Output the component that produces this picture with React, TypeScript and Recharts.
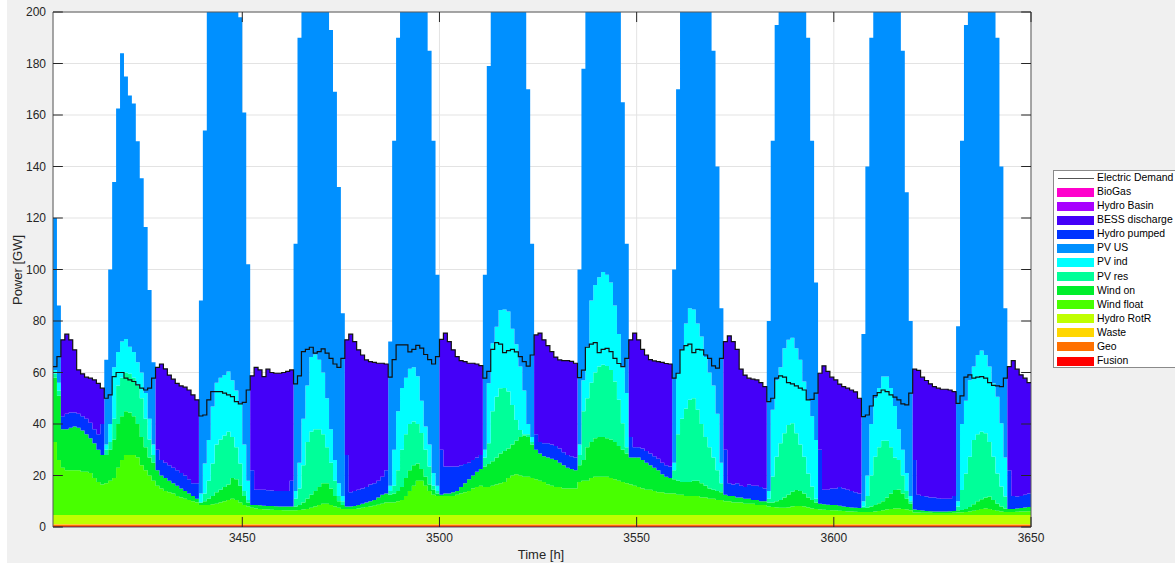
import React from "react";
import {
  ComposedChart,
  Area,
  Line,
  XAxis,
  YAxis,
  CartesianGrid,
  ReferenceLine,
  ReferenceArea,
} from "recharts";

const _ = null; // band not present in that hour

const FIRST_HOUR = 3402;
const LAST_HOUR = 3650;
const X_TICKS = [3450, 3500, 3550, 3600, 3650];
const Y_TICKS = [0, 20, 40, 60, 80, 100, 120, 140, 160, 180, 200];

// flat contributions over the whole window (GW)
const FUSION_GW = 0.4;
const GEO_GW = 0.6;
const WASTE_GW = 0.15;
const HYDRO_ROTR_GW = 3.5;
const HYDRO_BASIN_GW = 0;
const BIOGAS_GW = 0;

// upper edge of each band in the stack (GW), hourly 3402..3650
// blocks: night = 11 h (storage), day = 13 h (PV)
const windFloatTop = [
  33, 26,
  23, 22, 22, 22, 22, 21.5, 21.5, 21, 19, 17.5, 16.5,
  17, 18, 19, 23, 26, 28, 28, 28, 27, 24, 22, 20, 18,
  16, 15, 14, 13.5, 13, 12, 11.5, 11, 10.5, 10, 9.5,
  8.5, 8.5, 8.5, 8.8, 9, 9.5, 10, 10.5, 11, 10.5, 9.5, 8.5, 8,
  7.5, 7.2, 7, 6.9, 6.8, 6.7, 6.6, 6.6, 6.5, 6.5, 6.5,
  6.5, 6.6, 6.8, 7, 7.5, 8, 8.5, 9, 9, 8.5, 8, 7.5, 7,
  7, 7, 7, 7.2, 7.5, 7.8, 8, 8.3, 8.6, 9, 9.5,
  9.5, 9.5, 10, 10.5, 12, 14, 16, 18, 18, 16, 14, 12.5, 12,
  12, 12, 12, 12, 12.5, 13, 13.5, 14, 15, 15.5, 16,
  15.5, 15.5, 16, 16.5, 17, 17.5, 19, 20, 20.5, 20, 19.5, 19.5, 19,
  18.5, 18, 17.5, 16.5, 16, 15.5, 15.5, 15, 15, 15, 15,
  17.5, 18, 18, 19, 19.5, 19.5, 19.5, 19.5, 19, 18.5, 18, 17.5, 17,
  16.5, 16, 15.5, 15, 14.5, 14.5, 14, 13.5, 13.5, 13, 13,
  13, 12.5, 12.5, 12, 12, 12, 12, 11.5, 11.5, 11, 11, 10.5, 10.5,
  10, 10, 9.5, 9.5, 9.5, 9, 9, 9, 8.5, 8.5, 8.5,
  8, 7.8, 7.6, 7.5, 7.5, 7.6, 8, 8.2, 8.2, 8, 7.6, 7.2, 7,
  6.8, 6.7, 6.6, 6.5, 6.5, 6.3, 6.2, 6, 6, 5.9, 5.8,
  5.8, 5.8, 5.8, 6, 6.2, 6.5, 6.8, 7, 7.2, 7.2, 7, 6.8, 6.5,
  5.6, 5.6, 5.5, 5.5, 5.5, 5.4, 5.4, 5.4, 5.4, 5.4, 5.5,
  5.6, 5.7, 5.8, 6, 6.3, 6.6, 7, 7.2, 7, 6.6, 6.3, 6, 5.8,
  5.8, 5.8, 5.9, 6, 6, 6.1, 6.1,
];

const windOnTop = [
  58, 51,
  38, 38, 38.5, 39, 38.5, 37.5, 36, 34.5, 32.5, 30, 28,
  28, 30, 34, 40, 43, 45, 44.5, 43, 40, 35, 31, 27, 25,
  22, 20, 19, 18, 17, 16, 15, 14, 13, 12, 11,
  9.5, 10, 11, 12, 13.5, 14.5, 15.5, 16.5, 19, 18.5, 16, 12, 9.5,
  8.5, 8.5, 8.4, 8.3, 8.2, 8.2, 8.1, 8, 8, 8, 8,
  8, 8.5, 9.5, 11, 12.5, 14, 15.5, 17, 17, 15, 12, 10, 8.5,
  8, 8, 8.2, 8.5, 9, 9.5, 10, 10.5, 11.5, 12.5, 13,
  12.5, 13, 14, 15.5, 19, 22, 24, 24.7, 22.5, 19.5, 16.5, 14.5, 13,
  12.5, 13, 13, 13.5, 14, 15.5, 17, 18.5, 20, 21.5, 22.5,
  23.5, 24.5, 25.5, 27, 28.5, 29.5, 30.5, 32, 33.5, 35, 35.5, 35, 32,
  30, 28.5, 27.5, 27, 26.5, 26, 25, 24, 23, 22.5, 22,
  24, 26, 31, 33, 34.5, 35, 35, 34.5, 34, 33, 31.5, 30, 28.5,
  27, 27, 27, 26, 25, 24, 23, 22, 20.5, 19.5, 19,
  18.5, 18, 17.5, 17.5, 17.5, 18, 18, 17, 16, 15, 14.5, 14, 13.5,
  12.5, 12, 12, 11.5, 11.5, 11, 11, 10.5, 10.5, 10, 10,
  9.5, 9.5, 10, 10.5, 11.5, 12.5, 13.7, 14.4, 14, 13, 11.5, 10.5, 9.5,
  9, 8.8, 8.6, 8.5, 8.5, 8.3, 8, 7.8, 7.6, 7.5, 7.4,
  7.4, 7.5, 8, 8.5, 9.2, 10, 11.5, 13, 14.4, 14.6, 13, 11, 9,
  6.8, 6.6, 6.4, 6.2, 6.1, 6, 6, 6, 6, 6.1, 6.2,
  6.5, 6.6, 7, 7.8, 8.8, 10, 10.8, 11.5, 11.8, 10.5, 9, 8, 7.2,
  7, 7, 7.2, 7.4, 7.6, 7.8, 8,
];

const pvResTop = [
  59.5, 53,
  _, _, _, _, _, _, _, _, _, _, _,
  30, 33, 42, 55, 58, 60, 59.5, 58, 55, 50, 42, 34, 28,
  _, _, _, _, _, _, _, _, _, _, _,
  9.5, 13, 18, 24.7, 32, 34, 35.5, 37, 35, 31, 24.7, 14, 10.5,
  _, _, _, _, _, _, _, _, _, _, _,
  11, 15, 24, 33, 37, 38, 38, 36, 31, 25, 18, 12, 10,
  _, _, _, _, _, _, _, _, _, _, _,
  14, 16, 22, 30, 36, 40, 41, 40, 36.5, 30, 23.5, 16, 14,
  _, _, _, _, _, _, _, _, _, _, _,
  27, 32.5, 45, 50.6, 53.9, 54, 52.6, 47.4, 41.6, 37.7, 36, 36, 33,
  _, _, _, _, _, _, _, _, _, _, _,
  28, 45, 50, 56, 60, 62.3, 63, 62.5, 61, 56.5, 49.4, 40.3, 31,
  _, _, _, _, _, _, _, _, _, _, _,
  22, 36, 42, 46, 49.4, 50, 45.5, 40, 35, 31, 27, 22, 17,
  _, _, _, _, _, _, _, _, _, _, _,
  11, 19.6, 27.3, 32.5, 36.4, 39.6, 40.3, 36.4, 32, 27.3, 20.8, 15.7, 11,
  _, _, _, _, _, _, _, _, _, _, _,
  8, 12, 20, 27.3, 31, 33.5, 33.5, 31, 27, 26, 20, 14, 10,
  _, _, _, _, _, _, _, _, _, _, _,
  8, 14.4, 20.8, 27.3, 33.8, 36, 37, 36.4, 33, 27.3, 20.8, 15.7, 11.8,
  _, _, _, _, _, _, _,
];

const pvIndTop = [
  61, 56,
  _, _, _, _, _, _, _, _, _, _, _,
  32, 40, 62, 68, 72, 73, 70, 68, 64, 60, 52, 42, 32,
  _, _, _, _, _, _, _, _, _, _, _,
  13, 24.7, 33.8, 46.8, 56, 58, 59, 60.4, 57, 53, 48, 32, 18,
  _, _, _, _, _, _, _, _, _, _, _,
  14, 25, 42, 55, 66, 67, 65, 60, 50, 38, 26, 17, 12,
  _, _, _, _, _, _, _, _, _, _, _,
  16, 30, 45, 54, 58, 61.5, 62, 58.5, 49, 39, 32, 21, 16,
  _, _, _, _, _, _, _, _, _, _, _,
  30, 55.8, 71.4, 77.8, 84.3, 84.5, 83.7, 77, 71, 62.3, 53, 40, 35,
  _, _, _, _, _, _, _, _, _, _, _,
  32, 57, 70, 88, 94, 97, 99, 98, 95, 86, 75, 62, 52,
  _, _, _, _, _, _, _, _, _, _, _,
  25, 59.7, 68.8, 79, 85, 84.5, 79, 74, 66, 60, 55, 44, 25,
  _, _, _, _, _, _, _, _, _, _, _,
  14, 45.5, 57, 62, 69.4, 72.7, 73.5, 69.4, 65, 56.5, 49.4, 43, 33.8,
  _, _, _, _, _, _, _, _, _, _, _,
  10, 20, 40, 50, 54, 58.4, 58.4, 54, 47, 38, 30, 21, 12,
  _, _, _, _, _, _, _, _, _, _, _,
  10, 40, 49, 57, 62.3, 66.8, 68.5, 66.8, 62.3, 55.8, 50.6, 40.3, 27,
  _, _, _, _, _, _, _,
];

const pvUsTop = [
  120, 86,
  _, _, _, _, _, _, _, _, _, _, _,
  65, 100, 134, 162.5, 184, 175, 167.6, 164.5, 149.8, 135.4, 116.5, 92, 64,
  _, _, _, _, _, _, _, _, _, _, _,
  88, 154, 215, 240, 262, 275, 278, 270, 252, 228, 198, 161, 102,
  _, _, _, _, _, _, _, _, _, _, _,
  110, 190, 225, 255, 275, 282, 270, 250, 222, 193, 169, 132, 83,
  _, _, _, _, _, _, _, _, _, _, _,
  72, 150, 190, 225, 250, 268, 272, 262, 240, 212, 185, 150, 98,
  _, _, _, _, _, _, _, _, _, _, _,
  98, 179, 225, 258, 280, 290, 285, 265, 240, 215, 205, 170, 110,
  _, _, _, _, _, _, _, _, _, _, _,
  100, 178, 225, 255, 280, 292, 290, 275, 252, 225, 200, 165, 110,
  _, _, _, _, _, _, _, _, _, _, _,
  100, 170, 215, 245, 265, 270, 262, 245, 222, 205, 185, 140, 85,
  _, _, _, _, _, _, _, _, _, _, _,
  80, 150, 195, 225, 248, 262, 265, 255, 238, 212, 190, 150, 95,
  _, _, _, _, _, _, _, _, _, _, _,
  75, 140, 190, 222, 245, 258, 260, 250, 232, 208, 185, 130, 80,
  _, _, _, _, _, _, _, _, _, _, _,
  78, 150, 195, 225, 250, 262, 265, 255, 238, 212, 190, 140, 85,
  _, _, _, _, _, _, _,
];

const hydroPumpedTop = [
  _, _,
  43, 44, 44.5, 44.5, 44, 43, 42, 40.5, 38, 36, 40,
  _, _, _, _, _, _, _, _, _, _, _, _, _,
  30, 26, 25, 24, 23, 22, 21, 20, 18.5, 17, 17,
  _, _, _, _, _, _, _, _, _, _, _, _, _,
  22, 14.5, 14.5, 14.5, 14.3, 14.2, 14, 14, 14, 14, 18,
  _, _, _, _, _, _, _, _, _, _, _, _, _,
  28, 13.5, 14, 14.5, 15, 15.5, 16.5, 17, 18, 19.5, 22,
  _, _, _, _, _, _, _, _, _, _, _, _, _,
  30, 23.5, 23.5, 23.5, 23.5, 24, 24.5, 25, 26, 27, 28,
  _, _, _, _, _, _, _, _, _, _, _, _, _,
  36, 33, 32.5, 32.5, 32, 31.5, 30.5, 29, 28, 27.5, 27,
  _, _, _, _, _, _, _, _, _, _, _, _, _,
  35, 31, 31, 30.5, 29.5, 28.5, 27.5, 26.5, 25, 24, 23.5,
  _, _, _, _, _, _, _, _, _, _, _, _, _,
  30, 17, 16.5, 17, 16, 15.5, 16.5, 16, 16, 15.5, 15,
  _, _, _, _, _, _, _, _, _, _, _, _, _,
  30, 14.5, 14.5, 15, 15, 15.5, 15, 14.5, 14, 13.5, 13,
  _, _, _, _, _, _, _, _, _, _, _, _, _,
  26, 12.5, 12, 11.8, 11.5, 11.5, 11.2, 11, 11, 11, 12,
  _, _, _, _, _, _, _, _, _, _, _, _, _,
  22, 12, 11.8, 12, 12.5, 13, 13,
];

const electricDemand = [
  62.3, 66.2,
  72.7, 74.9, 72.7, 68.8, 61, 59.5, 58.2, 57.8, 57.1, 55.8, 53.9,
  50, 51.3, 58.4, 60, 60, 57.8, 57.1, 56.5, 55.2, 53.9, 53.2, 53.9, 57.8,
  62, 63.3, 61.4, 59, 57.4, 55.8, 54.8, 54.3, 53.2, 51.3, 49.4,
  43.1, 43.5, 49.4, 52.6, 52.6, 52.6, 52, 51.3, 50.6, 48.7, 47.8, 48.4, 53.2,
  58.7, 62, 61, 58.4, 61.3, 60, 59.7, 59.7, 60, 60.4, 61,
  55.6, 58.7, 68.1, 69, 69.8, 67.5, 68.1, 69.2, 67.5, 65.5, 63.3, 62, 65.5,
  72.7, 74.9, 72, 68.8, 66.8, 64.9, 64.2, 63.9, 63.6, 63.6, 63.3,
  58.2, 65, 70.7, 70.7, 70.7, 68, 69, 70.5, 69.5, 67, 65, 63.3, 66.2,
  72.9, 75.3, 72, 68.8, 66.2, 64.6, 64.2, 63.6, 63.6, 63.3, 62.7,
  57.8, 60.4, 69, 71.6, 71, 67.7, 68.5, 69, 68, 66.2, 64.2, 62.5, 66.8,
  74.6, 75.3, 72.7, 70.4, 68.1, 66, 64.9, 64.6, 64.6, 64.3, 63.6,
  58, 60.9, 69.8, 71, 71.6, 67.7, 69, 69.4, 68.1, 65.5, 63.5, 62.3, 65.5,
  72.7, 75.3, 72.7, 69, 66.8, 65, 64.5, 64.2, 63.9, 63.5, 63.3,
  57.8, 59.7, 68.8, 70.4, 71, 67.7, 69, 68.8, 66.8, 65.5, 62.6, 61.7, 65.5,
  72, 74.2, 72, 69, 61.3, 59, 57.8, 57.4, 57.1, 56.1, 54.5,
  48.7, 50, 57.8, 58.7, 58.2, 56.1, 55.6, 54.8, 53.9, 53.2, 49.4, 49.6, 52,
  59.7, 62.6, 60.4, 58.2, 57.1, 55.5, 54.5, 53.9, 53.2, 52.5, 50,
  42.9, 43.5, 47, 51, 52.2, 53.2, 52.6, 51.3, 50.4, 49.4, 47.8, 47.4, 52,
  61.3, 60.8, 58.2, 56.9, 55.6, 54.5, 53.9, 53.5, 53.5, 53.2, 52.6,
  48, 50.9, 58.2, 59.1, 57.8, 58.2, 58.4, 57.8, 56.1, 55, 54.8, 54.5, 57.8,
  62.3, 64.6, 61.3, 59.1, 57.8, 56.1, 56,
];

// stack order, bottom first
const SERIES = [
  { key: "fusion", name: "Fusion", color: "#ff0000" },
  { key: "geo", name: "Geo", color: "#ff7000" },
  { key: "waste", name: "Waste", color: "#ffd600" },
  { key: "hydroRotR", name: "Hydro RotR", color: "#bfff00" },
  { key: "windFloat", name: "Wind float", color: "#48ff00" },
  { key: "windOn", name: "Wind on", color: "#00ee2c" },
  { key: "pvRes", name: "PV res", color: "#00ff99" },
  { key: "pvInd", name: "PV ind", color: "#00ffff" },
  { key: "pvUS", name: "PV US", color: "#0090ff" },
  { key: "hydroPumped", name: "Hydro pumped", color: "#0033ff" },
  { key: "bess", name: "BESS discharge", color: "#4400f8" },
  { key: "hydroBasin", name: "Hydro Basin", color: "#a800ff" },
  { key: "bioGas", name: "BioGas", color: "#ff00cc" },
];

const BASE = FUSION_GW + GEO_GW + WASTE_GW + HYDRO_ROTR_GW;
const pos = (v: number) => Math.max(0, v);

const data = [];
for (let i = 0; i <= LAST_HOUR - FIRST_HOUR; i++) {
  const wf = windFloatTop[i];
  const wo = windOnTop[i];
  const res = pvResTop[i] ?? wo;
  const ind = pvIndTop[i] ?? res;
  const us = pvUsTop[i] ?? ind;
  const pumped = hydroPumpedTop[i] ?? us;
  const storageTop = hydroPumpedTop[i] == null ? pumped : Math.max(electricDemand[i], pumped);
  data.push({
    hour: FIRST_HOUR + i,
    fusion: FUSION_GW,
    geo: GEO_GW,
    waste: WASTE_GW,
    hydroRotR: HYDRO_ROTR_GW,
    windFloat: pos(wf - BASE),
    windOn: pos(wo - wf),
    pvRes: pos(res - wo),
    pvInd: pos(ind - res),
    pvUS: pos(us - ind),
    hydroPumped: pos(pumped - us),
    bess: pos(storageTop - pumped),
    hydroBasin: HYDRO_BASIN_GW,
    bioGas: BIOGAS_GW,
    demand: electricDemand[i],
  });
}

const FONT = '"Liberation Sans", Arial, Helvetica, sans-serif';
const INK = "#262626";

function Legend() {
  const rows = [...SERIES].reverse();
  return (
    <div
      style={{
        position: "absolute",
        left: 1046,
        top: 170,
        width: 140,
        height: 198,
        background: "#fff",
        border: "1px solid #8a8a8a",
        boxSizing: "border-box",
        fontSize: 10.4,
        color: "#000",
      }}
    >
      <div style={{ position: "absolute", left: 0, top: 0, height: 14, width: 140, lineHeight: "14px" }}>
        <div style={{ position: "absolute", left: 4, top: 7, width: 36, height: 1, background: "#555" }} />
        <span style={{ position: "absolute", left: 43, whiteSpace: "nowrap" }}>Electric Demand</span>
      </div>
      {rows.map((s, i) => (
        <div
          key={s.key}
          style={{ position: "absolute", left: 0, top: 14.08 * (i + 1), height: 14, width: 140, lineHeight: "14px" }}
        >
          <div style={{ position: "absolute", left: 3, top: 2.5, width: 37, height: 9, background: s.color }} />
          <span style={{ position: "absolute", left: 43, whiteSpace: "nowrap" }}>{s.name}</span>
        </div>
      ))}
    </div>
  );
}

export default function App() {
  return (
    <div
      style={{
        position: "absolute",
        left: 7,
        top: 0,
        width: 1168,
        height: 563,
        background: "#f0f0f0",
        overflow: "hidden",
        fontFamily: FONT,
      }}
    >
      <ComposedChart
        width={1168}
        height={563}
        data={data}
        margin={{ top: 12, right: 144, bottom: 6, left: 6 }}
      >
        <CartesianGrid fill="#ffffff" fillOpacity={1} stroke="#e3e3e3" />
        <XAxis
          type="number"
          dataKey="hour"
          domain={[FIRST_HOUR, LAST_HOUR]}
          ticks={X_TICKS}
          allowDataOverflow
          height={30}
          axisLine={false}
          tickLine={false}
          tickSize={0}
          tickMargin={6}
          tick={{ fontSize: 12, fill: INK, fontFamily: FONT }}
        />
        <YAxis
          type="number"
          domain={[0, 200]}
          ticks={Y_TICKS}
          allowDataOverflow
          width={40}
          axisLine={false}
          tickLine={false}
          tickSize={0}
          tickMargin={7}
          tick={{ fontSize: 12, fill: INK, fontFamily: FONT }}
        />
        {SERIES.map((s) => (
          <Area
            key={s.key}
            dataKey={s.key}
            name={s.name}
            stackId="gen"
            type="stepAfter"
            fill={s.color}
            fillOpacity={1}
            stroke="none"
            dot={false}
            activeDot={false}
            isAnimationActive={false}
          />
        ))}
        <Line
          dataKey="demand"
          name="Electric Demand"
          type="stepAfter"
          stroke="#111"
          strokeWidth={1.2}
          dot={false}
          activeDot={false}
          isAnimationActive={false}
        />
        {Y_TICKS.map((v) => (
          <ReferenceLine
            key={"yl" + v}
            segment={[{ x: FIRST_HOUR, y: v }, { x: FIRST_HOUR + 2.5, y: v }]}
            stroke={INK}
          />
        ))}
        {Y_TICKS.map((v) => (
          <ReferenceLine
            key={"yr" + v}
            segment={[{ x: LAST_HOUR - 2.5, y: v }, { x: LAST_HOUR, y: v }]}
            stroke={INK}
          />
        ))}
        {X_TICKS.map((t) => (
          <ReferenceLine key={"xb" + t} segment={[{ x: t, y: 0 }, { x: t, y: 3.9 }]} stroke={INK} />
        ))}
        {X_TICKS.map((t) => (
          <ReferenceLine key={"xt" + t} segment={[{ x: t, y: 196.1 }, { x: t, y: 200 }]} stroke={INK} />
        ))}
        <ReferenceArea
          x1={FIRST_HOUR}
          x2={LAST_HOUR}
          y1={0}
          y2={200}
          fill="none"
          fillOpacity={0}
          stroke="#5a5a5a"
          strokeWidth={1}
        />
      </ComposedChart>

      <div
        style={{
          position: "absolute",
          left: 10,
          top: 270,
          transform: "translate(-50%, -50%) rotate(-90deg)",
          fontSize: 13,
          color: INK,
          whiteSpace: "nowrap",
        }}
      >
        Power [GW]
      </div>
      <div
        style={{
          position: "absolute",
          left: 534,
          top: 554,
          transform: "translate(-50%, -50%)",
          fontSize: 13,
          color: INK,
          whiteSpace: "nowrap",
        }}
      >
        Time [h]
      </div>
      <Legend />
    </div>
  );
}
